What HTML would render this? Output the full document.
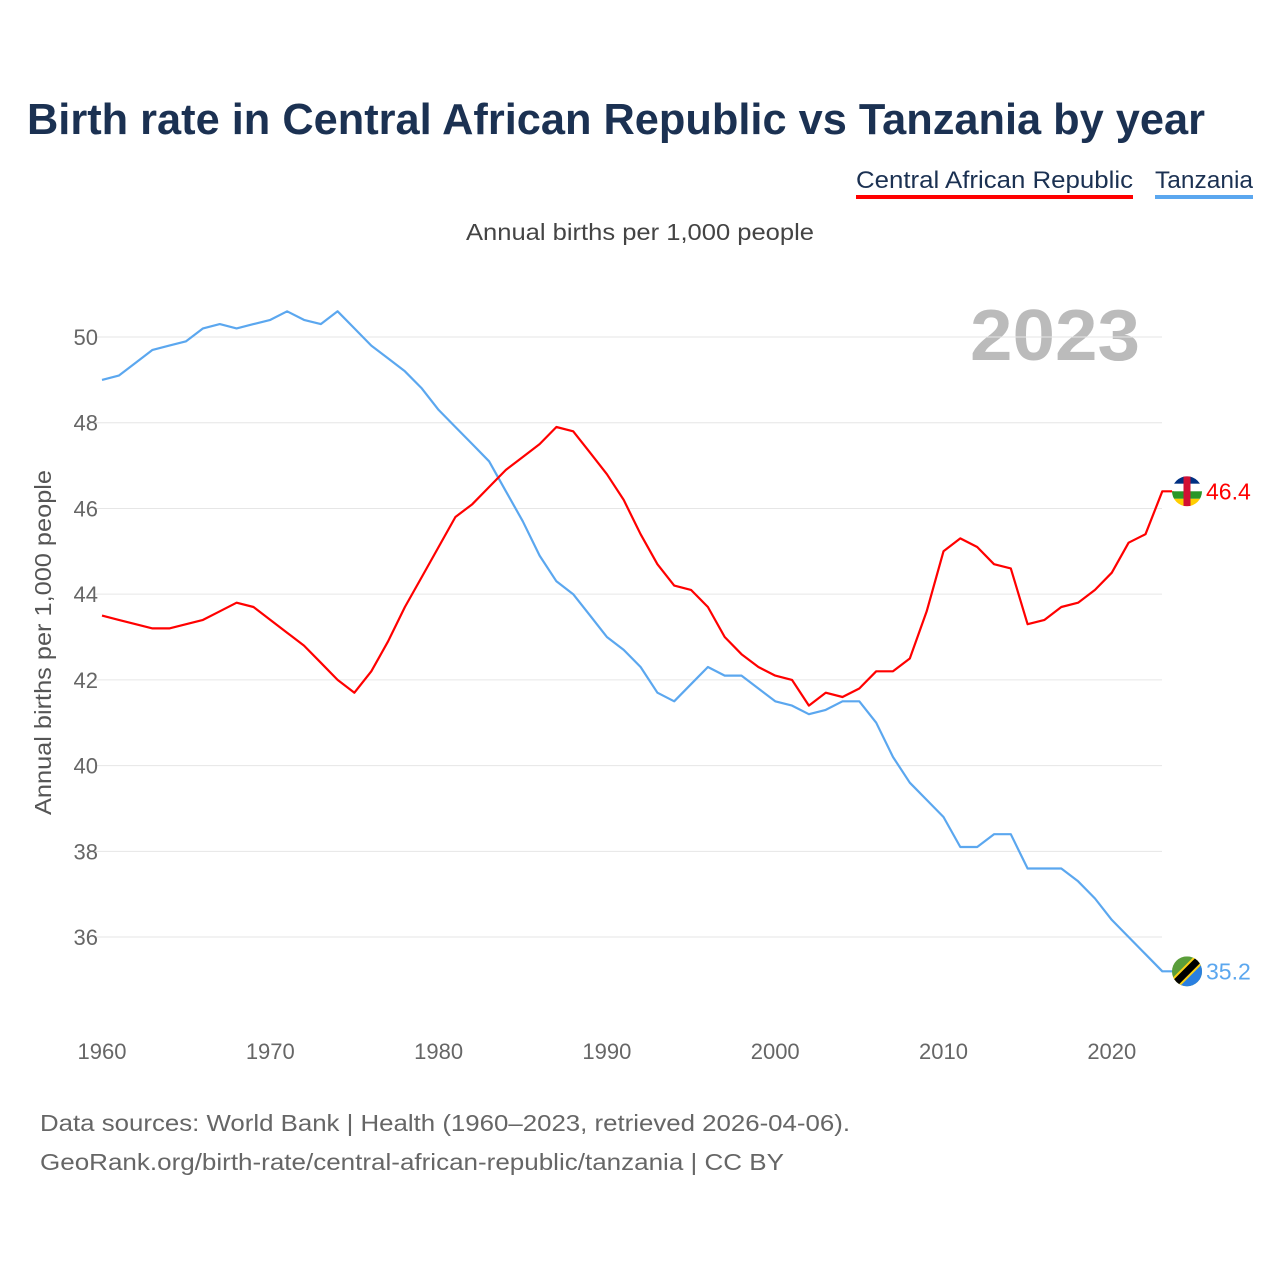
<!DOCTYPE html>
<html><head><meta charset="utf-8">
<style>
body{margin:0;background:#fff;font-family:"Liberation Sans",sans-serif;}
#wrap{position:relative;width:1280px;height:1280px;overflow:hidden;}
</style></head>
<body>
<div id="wrap">
<svg id="chart" width="1280" height="1280" xmlns="http://www.w3.org/2000/svg">
<text x="27" y="134" font-size="44" font-weight="bold" fill="#1b3152" textLength="1178" lengthAdjust="spacingAndGlyphs">Birth rate in Central African Republic vs Tanzania by year</text>
<g>
<text x="856" y="188" font-size="24" fill="#1b3152" textLength="277" lengthAdjust="spacingAndGlyphs">Central African Republic</text>
<rect x="856" y="195" width="277" height="4" fill="#ff0000"/>
</g>
<g>
<text x="1155" y="188" font-size="24" fill="#1b3152" textLength="98" lengthAdjust="spacingAndGlyphs">Tanzania</text>
<rect x="1155" y="195" width="98" height="4" fill="#5ba7ef"/>
</g>
<text x="466" y="240" font-size="23" fill="#444" textLength="348" lengthAdjust="spacingAndGlyphs">Annual births per 1,000 people</text>
<text x="1140" y="360" text-anchor="end" font-size="72" font-weight="bold" fill="#bbb" textLength="170" lengthAdjust="spacingAndGlyphs">2023</text>
<text transform="translate(51,815) rotate(-90)" font-size="23" fill="#555" textLength="345" lengthAdjust="spacingAndGlyphs">Annual births per 1,000 people</text>
<g id="grid"></g><g id="yticks"></g><g id="xticks"></g><g id="lines"></g><g id="ends"></g>
<text x="40" y="1131" font-size="23" fill="#666" textLength="810" lengthAdjust="spacingAndGlyphs">Data sources: World Bank | Health (1960–2023, retrieved 2026-04-06).</text>
<text x="40" y="1170" font-size="23" fill="#666" textLength="744" lengthAdjust="spacingAndGlyphs">GeoRank.org/birth-rate/central-african-republic/tanzania | CC BY</text>
</svg>
</div>
<script>
const years=[];for(let y=1960;y<=2023;y++)years.push(y);
const carValues=[43.5,43.4,43.3,43.2,43.2,43.3,43.4,43.6,43.8,43.7,43.4,43.1,42.8,42.4,42.0,41.7,42.2,42.9,43.7,44.4,45.1,45.8,46.1,46.5,46.9,47.2,47.5,47.9,47.8,47.3,46.8,46.2,45.4,44.7,44.2,44.1,43.7,43.0,42.6,42.3,42.1,42.0,41.4,41.7,41.6,41.8,42.2,42.2,42.5,43.6,45.0,45.3,45.1,44.7,44.6,43.3,43.4,43.7,43.8,44.1,44.5,45.2,45.4,46.4];
const tzaValues=[49.0,49.1,49.4,49.7,49.8,49.9,50.2,50.3,50.2,50.3,50.4,50.6,50.4,50.3,50.6,50.2,49.8,49.5,49.2,48.8,48.3,47.9,47.5,47.1,46.4,45.7,44.9,44.3,44.0,43.5,43.0,42.7,42.3,41.7,41.5,41.9,42.3,42.1,42.1,41.8,41.5,41.4,41.2,41.3,41.5,41.5,41.0,40.2,39.6,39.2,38.8,38.1,38.1,38.4,38.4,37.6,37.6,37.6,37.3,36.9,36.4,36.0,35.6,35.2];
const yTicks=[36,38,40,42,44,46,48,50];
const xTicks=[1960,1970,1980,1990,2000,2010,2020];
const NS="http://www.w3.org/2000/svg";
const xs=y=>102+(y-1960)*16.83;
const ys=v=>337+(50-v)*42.86;
function mk(tag,attrs,parent){const e=document.createElementNS(NS,tag);for(const k in attrs)e.setAttribute(k,attrs[k]);document.getElementById(parent).appendChild(e);return e;}
yTicks.forEach(t=>{
 const g=mk('line',{x1:95,x2:1162,y1:ys(t),y2:ys(t),stroke:'#e6e6e6','stroke-width':1},'grid');
 
 
 const l=mk('text',{x:98,y:ys(t)+8,'text-anchor':'end','font-size':22,fill:'#666'},'yticks');l.textContent=t;
 
 
});
xTicks.forEach(t=>{
 const l=mk('text',{x:xs(t),y:1059,'text-anchor':'middle','font-size':22,fill:'#666'},'xticks');l.textContent=t;
 
 
});
function line(vals,color,name){
 const last=vals[vals.length-1];
 const d=vals.map((v,i)=>(i?'L':'M')+xs(years[i]).toFixed(1)+','+ys(v).toFixed(1)).join('')+'L1174,'+ys(last).toFixed(1);
 const p=mk('path',{d:d,fill:'none',stroke:color,'stroke-width':2.2,'stroke-linejoin':'round'},'lines');
 
 
}
line(tzaValues,'#5ba7ef','line-tanzania');
line(carValues,'#ff0000','line-central-african-republic');
function end(vals,color,name,type){
 const v=vals[vals.length-1],cy=ys(v),cx=1187;
 const g=mk('g',{},'ends');
 
 
 const cp='c'+name;
 const defs=document.createElementNS(NS,'clipPath');defs.setAttribute('id',cp);
 const cc=document.createElementNS(NS,'circle');cc.setAttribute('cx',cx);cc.setAttribute('cy',cy);cc.setAttribute('r',15);defs.appendChild(cc);g.appendChild(defs);
 const f=document.createElementNS(NS,'g');f.setAttribute('clip-path','url(#'+cp+')');g.appendChild(f);
 const add=(t,a)=>{const e=document.createElementNS(NS,t);for(const k in a)e.setAttribute(k,a[k]);f.appendChild(e);};
 if(type==='car'){
  const cols=['#003082','#fff','#289728','#ffce00'];
  cols.forEach((c,i)=>add('rect',{x:cx-15,y:cy-15+i*7.5,width:30,height:7.5,fill:c}));
  add('rect',{x:cx-3.5,y:cy-15,width:7,height:30,fill:'#d21034'});
 }else{
  add('rect',{x:cx-15,y:cy-15,width:30,height:30,fill:'#5a9e3a'});
  add('polygon',{points:`${cx+15},${cy-15} ${cx+15},${cy+15} ${cx-15},${cy+15}`,fill:'#2a7fe0'});
  add('line',{x1:cx-15,y1:cy+15,x2:cx+15,y2:cy-15,stroke:'#fcd116','stroke-width':11});
  add('line',{x1:cx-15,y1:cy+15,x2:cx+15,y2:cy-15,stroke:'#000','stroke-width':7});
 }
 const t=document.createElementNS(NS,'text');t.setAttribute('x',1206);t.setAttribute('y',cy+8);t.setAttribute('font-size',23);t.setAttribute('fill',color);t.textContent=v.toFixed(1);g.appendChild(t);
}
end(carValues,'#ff0000','end-label-car','car');
end(tzaValues,'#5ba7ef','end-label-tanzania','tza');
</script>
</body></html>
